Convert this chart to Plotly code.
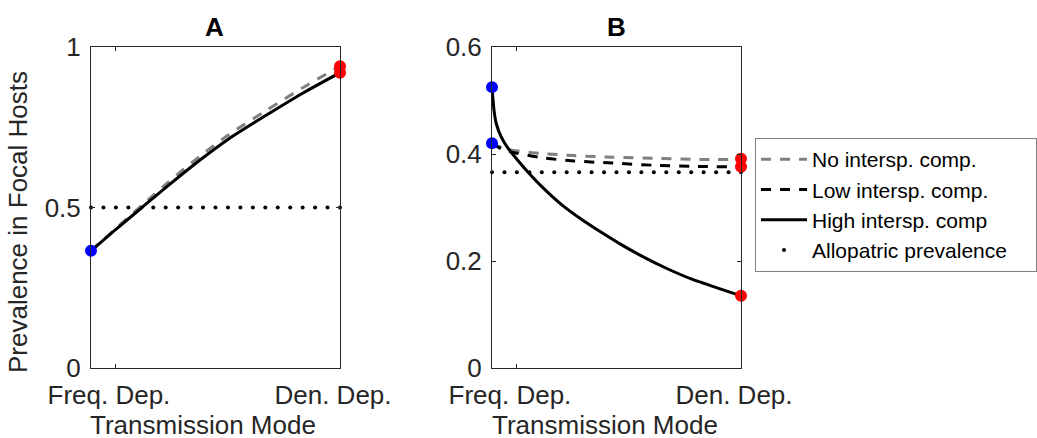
import plotly.graph_objects as go

# ---------------- data ----------------
# Panel A
xA_curve = [0, 0.1, 0.205, 0.3, 0.438, 0.55, 0.705, 0.85, 1]
A_high = [0.365, 0.432, 0.5, 0.562, 0.648, 0.712, 0.788, 0.856, 0.92]
A_none = [0.365, 0.435, 0.507, 0.572, 0.66, 0.725, 0.803, 0.873, 0.94]
A_start = [0.365]
A_end = [0.94, 0.92]
A_allopatric = 0.5

# Panel B
xB_high = [0, 0.008, 0.017, 0.037, 0.064, 0.104, 0.145, 0.198, 0.278, 0.359,
           0.434, 0.514, 0.594, 0.702, 0.808, 0.916, 1]
B_high = [0.525, 0.482, 0.457, 0.432, 0.411, 0.388, 0.366, 0.340, 0.306, 0.278,
          0.255, 0.232, 0.211, 0.186, 0.165, 0.148, 0.135]
xB_dash = [0, 0.04, 0.095, 0.2, 0.33, 0.486, 0.65, 0.8, 1]
B_none = [0.42, 0.412, 0.406, 0.401, 0.397, 0.394, 0.392, 0.39, 0.39]
B_low = [0.42, 0.409, 0.402, 0.393, 0.387, 0.383, 0.379, 0.377, 0.376]
B_start = [0.525, 0.42]
B_end = [0.391, 0.376, 0.135]
B_allopatric = 0.366

allo_x = [0, 0.05, 0.1, 0.15, 0.2, 0.25, 0.3, 0.35, 0.4, 0.45, 0.5,
          0.55, 0.6, 0.65, 0.7, 0.75, 0.8, 0.85, 0.9, 0.95, 1]

x_tickvals = [0.1, 1]
x_ticktext = ["Freq. Dep.", "Den. Dep."]
yA_ticks = [0, 0.5, 1]
yA_text = ["0", "0.5", "1"]
yB_ticks = [0, 0.2, 0.4, 0.6]
yB_text = ["0", "0.2", "0.4", "0.6"]

legend_names = ["No intersp. comp.", "Low intersp. comp.", "High intersp. comp",
                "Allopatric prevalence\u00a0\u00a0\u00a0\u00a0"]

# ---------------- style ----------------
FONT = "Liberation Sans, Arial, Helvetica, sans-serif"
W, H = 1037, 438
GRAY = "#808080"
DASH = "10px,9px"
FS = 26

fig = go.Figure()

# ---- Panel A ----
fig.add_trace(go.Scatter(x=allo_x, y=[A_allopatric] * len(allo_x), mode="markers",
                         marker=dict(color="black", size=4), xaxis="x", yaxis="y",
                         showlegend=False, cliponaxis=False))
fig.add_trace(go.Scatter(x=xA_curve, y=A_none, mode="lines",
                         line=dict(color=GRAY, width=3, dash=DASH, shape="spline", smoothing=0.8),
                         xaxis="x", yaxis="y", showlegend=False))
fig.add_trace(go.Scatter(x=xA_curve, y=A_high, mode="lines",
                         line=dict(color="black", width=3, shape="spline", smoothing=0.8),
                         xaxis="x", yaxis="y", showlegend=False))
fig.add_trace(go.Scatter(x=[0] * len(A_start), y=A_start, mode="markers",
                         marker=dict(color="blue", size=12), xaxis="x", yaxis="y",
                         showlegend=False, cliponaxis=False))
fig.add_trace(go.Scatter(x=[1] * len(A_end), y=A_end, mode="markers",
                         marker=dict(color="red", size=12), xaxis="x", yaxis="y",
                         showlegend=False, cliponaxis=False))

# ---- Panel B ----
fig.add_trace(go.Scatter(x=xB_dash, y=B_none, mode="lines", name=legend_names[0],
                         line=dict(color=GRAY, width=3, dash=DASH, shape="spline", smoothing=0.8),
                         xaxis="x2", yaxis="y2", showlegend=True))
fig.add_trace(go.Scatter(x=xB_dash, y=B_low, mode="lines", name=legend_names[1],
                         line=dict(color="black", width=3, dash=DASH, shape="spline", smoothing=0.8),
                         xaxis="x2", yaxis="y2", showlegend=True))
fig.add_trace(go.Scatter(x=xB_high, y=B_high, mode="lines", name=legend_names[2],
                         line=dict(color="black", width=3, shape="spline", smoothing=0.5),
                         xaxis="x2", yaxis="y2", showlegend=True))
fig.add_trace(go.Scatter(x=allo_x, y=[B_allopatric] * len(allo_x), mode="markers",
                         name=legend_names[3],
                         marker=dict(color="black", size=4), xaxis="x2", yaxis="y2",
                         showlegend=True, cliponaxis=False))
fig.add_trace(go.Scatter(x=[0] * len(B_start), y=B_start, mode="markers",
                         marker=dict(color="blue", size=12), xaxis="x2", yaxis="y2",
                         showlegend=False, cliponaxis=False))
fig.add_trace(go.Scatter(x=[1] * len(B_end), y=B_end, mode="markers",
                         marker=dict(color="red", size=12), xaxis="x2", yaxis="y2",
                         showlegend=False, cliponaxis=False))

# ---------------- layout ----------------
def px_x(p):
    return p / W

def px_y(p):
    return 1 - p / H

top, bottom = 47, 368
A_left, A_right = 91, 340
B_left, B_right = 492, 741

axis_common = dict(showline=True, linecolor="#262626", linewidth=1, mirror="ticks",
                   ticks="inside", ticklen=4, tickcolor="#262626", showgrid=False,
                   zeroline=False, automargin=False,
                   tickfont=dict(family=FONT, size=FS, color="#262626"))

xaxis_common = dict(axis_common, range=[0, 1], tickmode="array", tickvals=x_tickvals,
                    ticktext=x_ticktext, ticklabelshift=-7, ticklabelstandoff=4)

yaxis_common = dict(axis_common, tickmode="array", ticklabelstandoff=4)

fig.update_layout(
    width=W, height=H,
    margin=dict(l=0, r=0, t=0, b=0, pad=0, autoexpand=False),
    paper_bgcolor="white", plot_bgcolor="white",
    font=dict(family=FONT, size=FS, color="#262626"),
    xaxis=dict(xaxis_common, domain=[px_x(A_left), px_x(A_right)], anchor="y"),
    yaxis=dict(yaxis_common, domain=[px_y(bottom), px_y(top)], range=[0, 1], anchor="x",
               tickvals=yA_ticks, ticktext=yA_text),
    xaxis2=dict(xaxis_common, domain=[px_x(B_left), px_x(B_right)], anchor="y2"),
    yaxis2=dict(yaxis_common, domain=[px_y(bottom), px_y(top)], range=[0, 0.6], anchor="x2",
                tickvals=yB_ticks, ticktext=yB_text),
    showlegend=True,
    legend=dict(x=px_x(755), y=px_y(138), xanchor="left", yanchor="top",
                bgcolor="white", bordercolor="#808080", borderwidth=1,
                font=dict(family=FONT, size=21, color="black"),
                tracegroupgap=0, itemwidth=46),
)

annotations = [
    dict(text="<b>A</b>", x=px_x(214), y=px_y(27)),
    dict(text="<b>B</b>", x=px_x(616), y=px_y(27)),
    dict(text="Prevalence in Focal Hosts", x=px_x(18), y=px_y(222), textangle=-90),
    dict(text="Transmission Mode", x=px_x(203), y=px_y(425)),
    dict(text="Transmission Mode", x=px_x(605), y=px_y(425)),
]
for a in annotations:
    fig.add_annotation(xref="paper", yref="paper", showarrow=False,
                       xanchor="center", yanchor="middle",
                       font=dict(family=FONT, size=FS, color="#262626" if "<b>" not in a["text"] else "black"),
                       **a)

fig.write_html("out.html")
